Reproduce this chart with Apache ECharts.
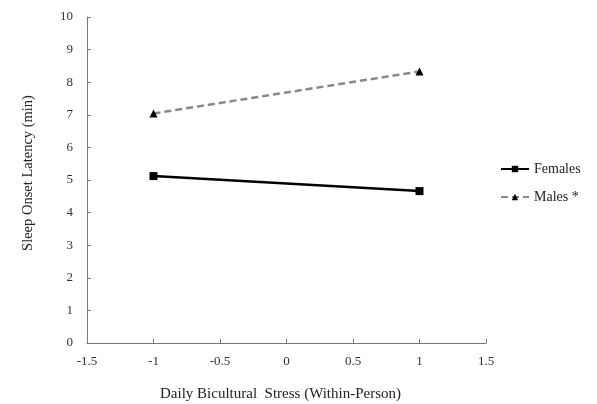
<!DOCTYPE html>
<html><head><meta charset="utf-8">
<script src="https://cdn.jsdelivr.net/npm/echarts@6/dist/echarts.min.js"></script>
<style>html,body{margin:0;padding:0;background:#fff}#c{width:597px;height:404px}</style>
</head><body><div id="c"></div>
<script>
const xValues = [-1, 1];
const femalesValues = [5.12, 4.66];
const malesValues = [7.04, 8.33];
const seriesNames = ['Females', 'Males *'];
const xTitle = 'Daily Bicultural  Stress (Within-Person)';
const yTitle = 'Sleep Onset Latency (min)';

const font = 'Liberation Serif';
const chart = echarts.init(document.getElementById('c'), null, {renderer: 'canvas'});
chart.setOption({
  animation: false,
  backgroundColor: '#fff',
  grid: {left: 87, right: 111, top: 17, bottom: 61, containLabel: false, outerBoundsMode: 'none'},
  legend: {
    orient: 'vertical', left: 495, top: 157, itemGap: 14,
    itemWidth: 28, itemHeight: 8,
    textStyle: {fontFamily: font, fontSize: 14, color: '#222'},
    data: seriesNames
  },
  xAxis: {
    type: 'value', min: -1.5, max: 1.5, interval: 0.5,
    name: xTitle, nameLocation: 'middle', nameGap: 44,
    nameTextStyle: {fontFamily: font, fontSize: 15, color: '#222', padding: [0, 12, 0, 0]},
    splitLine: {show: false},
    axisLine: {onZero: false, lineStyle: {color: '#777', width: 1}},
    axisTick: {inside: true, length: 4, lineStyle: {color: '#777'}},
    axisLabel: {fontFamily: font, fontSize: 13, color: '#333', margin: 12}
  },
  yAxis: {
    type: 'value', min: 0, max: 10, interval: 1,
    name: yTitle, nameLocation: 'middle', nameGap: 51, nameRotate: 90,
    nameTextStyle: {fontFamily: font, fontSize: 14.5, color: '#222', padding: [0, 0, 0, 14]},
    splitLine: {show: false},
    axisLine: {show: true, onZero: false, lineStyle: {color: '#777', width: 1}},
    axisTick: {show: true, inside: true, length: 4, lineStyle: {color: '#777'}},
    axisLabel: {fontFamily: font, fontSize: 13, color: '#333', margin: 14}
  },
  series: [
    {
      name: seriesNames[0], type: 'line',
      data: xValues.map((x, i) => [x, femalesValues[i]]),
      symbol: 'rect', symbolSize: 8,
      lineStyle: {color: '#000', width: 2.5},
      itemStyle: {color: '#000'}
    },
    {
      name: seriesNames[1], type: 'line',
      data: xValues.map((x, i) => [x, malesValues[i]]),
      symbol: 'triangle', symbolSize: 8,
      lineStyle: {color: '#888', width: 2.5, type: [7, 4]},
      itemStyle: {color: '#000'}
    }
  ]
});
</script></body></html>
